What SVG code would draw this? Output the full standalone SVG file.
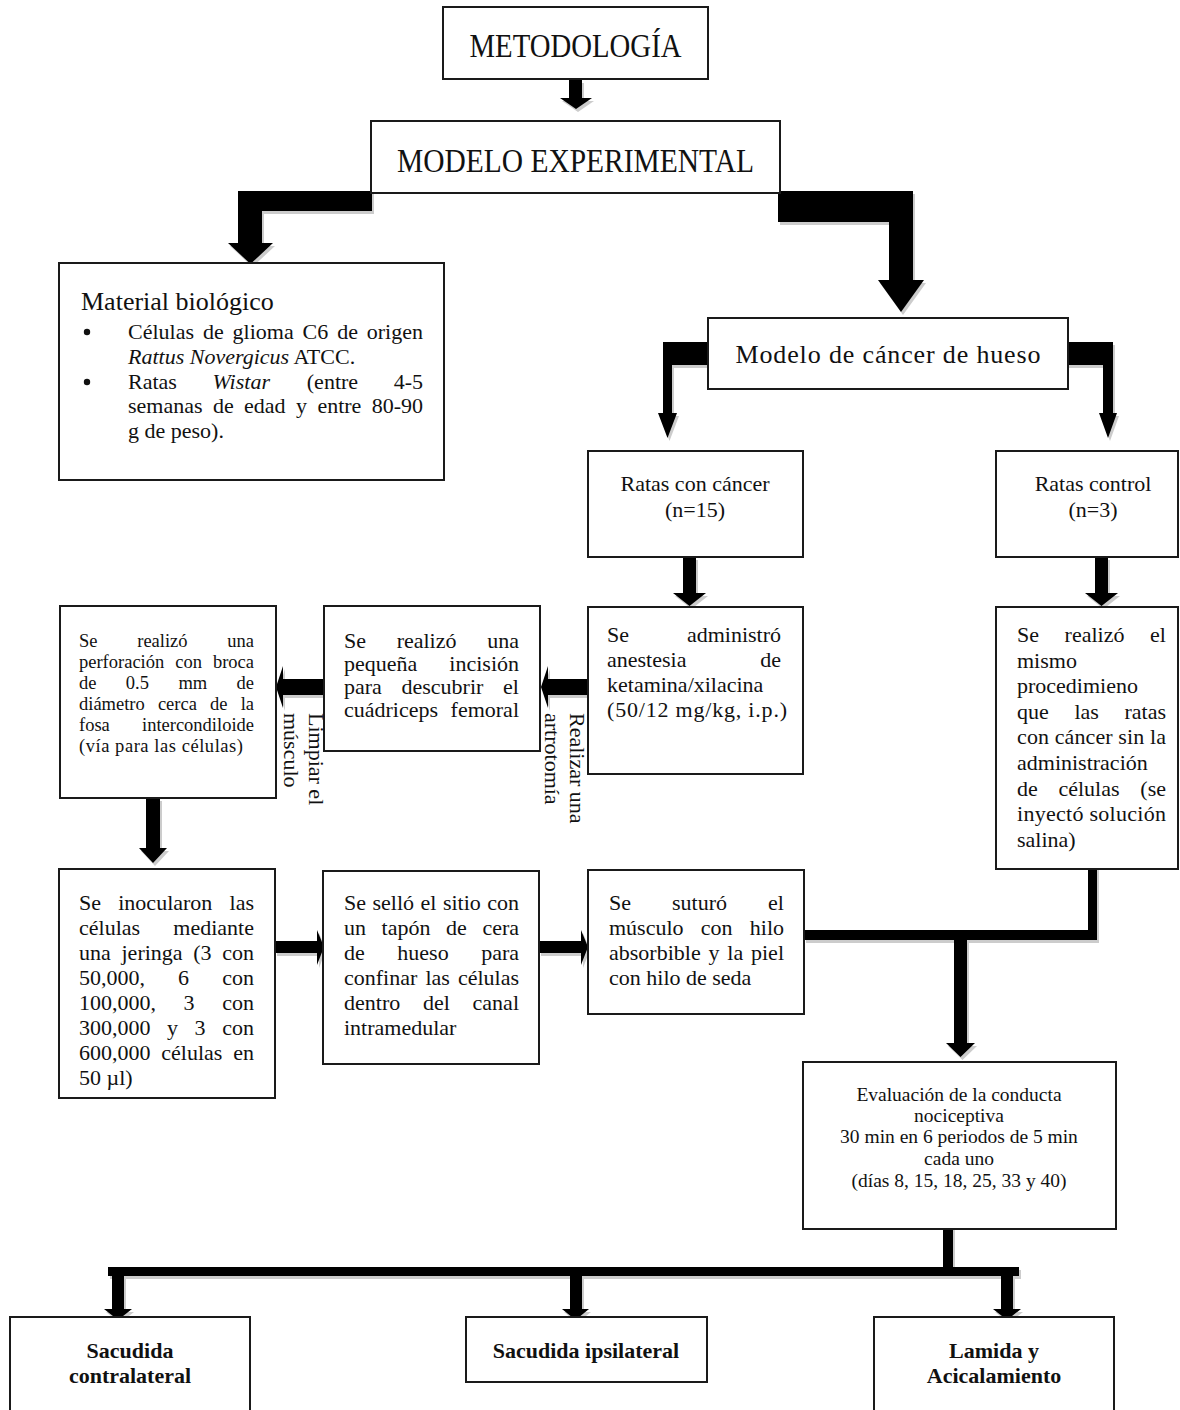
<svg xmlns="http://www.w3.org/2000/svg" xmlns:xlink="http://www.w3.org/1999/xlink" width="1180" height="1410" viewBox="0 0 1180 1410">
<style>
.box{fill:#fff;stroke:#1a1a1a;stroke-width:2}
text{font-family:"Liberation Serif","DejaVu Serif",serif;fill:#111}
.f18{font-size:18.5px}
.f22{font-size:22px}
.f19{font-size:19.5px}
.big{font-size:34px}
.mid{font-size:26px}
.bold{font-size:22px;font-weight:bold}
.e{text-anchor:end}
.m{text-anchor:middle}
.it{font-style:italic}
</style>
<rect width="1180" height="1410" fill="#fff"/>
<g id="connectors">
  <use xlink:href="#conn-paths" href="#conn-paths" transform="translate(2,3)" fill="#cccccc"/>
  <g fill="#000">
    <g id="conn-paths">
      <path d="M569,80 H582 V98 H592 L576,109 L560,98 H569 Z"/>
      <path d="M372,191 V211 H262 V243 H273 L250.5,264 L228,243 H238 V191 Z"/>
      <path d="M778,191 H913 V280 H924 L901,312 L878,280 H889 V222 H778 Z"/>
      <path d="M710,342 V365 H672 V413 H677 L667.5,438 L658,413 H663 V342 Z"/>
      <path d="M1066,342 H1113 V413 H1117 L1108,438 L1099,413 H1103 V365 H1066 Z"/>
      <path d="M683,557 H696 V593 H706 L689.5,606 L673,593 H683 Z"/>
      <path d="M1095,557 H1108 V593 H1118 L1101.5,606 L1085,593 H1095 Z"/>
      <path d="M588,679 V695 H548 V708 L541,687 L548,666 V679 Z"/>
      <path d="M324,679 V695 H283 V708 L276,687 L283,666 V679 Z"/>
      <path d="M146,798 H160 V848 H167 L153,863 L139,848 H146 Z"/>
      <path d="M275,941 H317 V930 L324,947 L317,965 V953 H275 Z"/>
      <path d="M539,941 H581 V930 L588,947 L581,965 V953 H539 Z"/>
      <path d="M804,930 H1088 V863 H1097 V940 H967 V1043 H975 L960.5,1057 L946,1043 H954 V940 H804 Z"/>
      <path d="M943,1225 H953 V1267 H1019 V1276 H1013 V1309 H1021 L1007,1320 L993,1309 H1001 V1276 H582 V1309 H589 L575.5,1320 L562,1309 H570 V1276 H124 V1309 H132 L118,1320 L104,1309 H112 V1276 H108 V1267 H943 Z"/>
    </g>
  </g>
  <text class="f22" transform="translate(309,713) rotate(90)">Limpiar el</text>
  <text class="f22" transform="translate(284,713) rotate(90)">músculo</text>
  <text class="f22" transform="translate(570,713) rotate(90)">Realizar una</text>
  <text class="f22" transform="translate(545,713) rotate(90)">artrotomía</text>
</g>

<g id="n-metodologia">
  <rect class="box" x="443" y="7" width="265" height="72"/>
  <text class="big m" x="575.5" y="57" textLength="212" lengthAdjust="spacingAndGlyphs">METODOLOGÍA</text>
</g>
<g id="n-modelo-experimental">
  <rect class="box" x="371" y="121" width="409" height="72"/>
  <text class="big m" x="575.5" y="172" textLength="357" lengthAdjust="spacingAndGlyphs">MODELO EXPERIMENTAL</text>
</g>
<g id="n-material">
  <rect class="box" x="59" y="263" width="385" height="217"/>
  <text class="mid" x="81" y="310">Material biológico</text>
  <circle cx="87" cy="332" r="3.2" fill="#111"/>
  <circle cx="87" cy="382" r="3.2" fill="#111"/>
  <text class="f22" y="339"><tspan x="128">Células</tspan><tspan x="202.9">de</tspan><tspan x="232.6">glioma</tspan><tspan x="302.6">C6</tspan><tspan x="337.2">de</tspan></text>
  <text class="f22 e" x="423" y="339">origen</text>
  <text class="f22" x="128" y="364"><tspan class="it">Rattus Novergicus</tspan> ATCC.</text>
  <text class="f22" y="389"><tspan x="128">Ratas</tspan><tspan class="it" x="212.5">Wistar</tspan><tspan x="306.8">(entre</tspan></text>
  <text class="f22 e" x="423" y="389">4-5</text>
  <text class="f22" y="413"><tspan x="128">semanas</tspan><tspan x="212.9">de</tspan><tspan x="244.1">edad</tspan><tspan x="296">y</tspan><tspan x="317.4">entre</tspan></text>
  <text class="f22 e" x="423" y="413">80-90</text>
  <text class="f22" x="128" y="438">g de peso).</text>
</g>
<g id="n-modelo-cancer">
  <rect class="box" x="708" y="318" width="360" height="71"/>
  <text class="mid m" x="888" y="363" textLength="305" lengthAdjust="spacing">Modelo de cáncer de hueso</text>
</g>
<g id="n-ratas-cancer">
  <rect class="box" x="588" y="451" width="215" height="106"/>
  <text class="f22 m" x="695" y="491">Ratas con cáncer</text>
  <text class="f22 m" x="695" y="517">(n=15)</text>
</g>
<g id="n-ratas-control">
  <rect class="box" x="996" y="451" width="182" height="106"/>
  <text class="f22 m" x="1093" y="491">Ratas control</text>
  <text class="f22 m" x="1093" y="517">(n=3)</text>
</g>
<g id="n-administro">
  <rect class="box" x="588" y="607" width="215" height="167"/>
  <text class="f22" x="607" y="642">Se</text><text class="f22 e" x="781" y="642">administró</text>
  <text class="f22" x="607" y="667">anestesia</text><text class="f22 e" x="781" y="667">de</text>
  <text class="f22" x="607" y="692">ketamina/xilacina</text>
  <text class="f22" x="607" y="717" textLength="180" lengthAdjust="spacing">(50/12 mg/kg, i.p.)</text>
</g>
<g id="n-control-proc">
  <rect class="box" x="996" y="607" width="182" height="262"/>
  <text class="f22" x="1017" y="642">Se</text><text class="f22 m" x="1094.5" y="642">realizó</text><text class="f22 e" x="1166" y="642">el</text>
  <text class="f22" x="1017" y="667.6">mismo</text>
  <text class="f22" x="1017" y="693.2">procedimieno</text>
  <text class="f22" x="1017" y="718.8">que</text><text class="f22 m" x="1086.7" y="718.8">las</text><text class="f22 e" x="1166" y="718.8">ratas</text>
  <text class="f22" x="1017" y="744.4" textLength="149" lengthAdjust="spacing">con cáncer sin la</text>
  <text class="f22" x="1017" y="770">administración</text>
  <text class="f22" x="1017" y="795.6">de</text><text class="f22 m" x="1089" y="795.6">células</text><text class="f22 e" x="1166" y="795.6">(se</text>
  <text class="f22" x="1017" y="821.2" textLength="149" lengthAdjust="spacing">inyectó solución</text>
  <text class="f22" x="1017" y="846.8">salina)</text>
</g>
<g id="n-incision">
  <rect class="box" x="324" y="606" width="216" height="145"/>
  <text class="f22" x="344" y="648">Se</text><text class="f22 m" x="426.6" y="648">realizó</text><text class="f22 e" x="519" y="648">una</text>
  <text class="f22" x="344" y="671">pequeña</text><text class="f22 e" x="519" y="671">incisión</text>
  <text class="f22" y="694"><tspan x="344">para</tspan><tspan x="401.5">descubrir</tspan></text><text class="f22 e" x="519" y="694">el</text>
  <text class="f22" x="344" y="717">cuádriceps</text><text class="f22 e" x="519" y="717">femoral</text>
</g>
<g id="n-perforacion">
  <rect class="box" x="60" y="606" width="216" height="192"/>
  <text class="f18" x="79" y="647">Se</text><text class="f18 m" x="162.4" y="647">realizó</text><text class="f18 e" x="254" y="647">una</text>
  <text class="f18" y="668"><tspan x="79">perforación</tspan><tspan x="175.3">con</tspan></text><text class="f18 e" x="254" y="668">broca</text>
  <text class="f18" x="79" y="689">de</text><text class="f18 m" x="137.4" y="689">0.5</text><text class="f18 m" x="192.8" y="689">mm</text><text class="f18 e" x="254" y="689">de</text>
  <text class="f18" y="710"><tspan x="79">diámetro</tspan><tspan x="157.9">cerca</tspan><tspan x="210">de</tspan></text><text class="f18 e" x="254" y="710">la</text>
  <text class="f18" x="79" y="731">fosa</text><text class="f18 e" x="254" y="731">intercondiloide</text>
  <text class="f18" x="79" y="752" textLength="164" lengthAdjust="spacing">(vía para las células)</text>
</g>
<g id="n-inocularon">
  <rect class="box" x="59" y="869" width="216" height="229"/>
  <text class="f22" x="79" y="910">Se</text><text class="f22 m" x="165.3" y="910">inocularon</text><text class="f22 e" x="254" y="910">las</text>
  <text class="f22" x="79" y="935">células</text><text class="f22 e" x="254" y="935">mediante</text>
  <text class="f22" y="960"><tspan x="79">una</tspan><tspan x="121.5">jeringa</tspan><tspan x="193.3">(3</tspan></text><text class="f22 e" x="254" y="960">con</text>
  <text class="f22" x="79" y="985">50,000,</text><text class="f22 m" x="183.6" y="985">6</text><text class="f22 e" x="254" y="985">con</text>
  <text class="f22" x="79" y="1010">100,000,</text><text class="f22 m" x="189.1" y="1010">3</text><text class="f22 e" x="254" y="1010">con</text>
  <text class="f22" x="79" y="1035">300,000</text><text class="f22 m" x="172.6" y="1035">y</text><text class="f22 m" x="200.1" y="1035">3</text><text class="f22 e" x="254" y="1035">con</text>
  <text class="f22" y="1060"><tspan x="79">600,000</tspan><tspan x="161.3">células</tspan></text><text class="f22 e" x="254" y="1060">en</text>
  <text class="f22" x="79" y="1085">50 µl)</text>
</g>
<g id="n-sello">
  <rect class="box" x="323" y="871" width="216" height="193"/>
  <text class="f22" y="910"><tspan x="344">Se</tspan><tspan x="372.5">selló</tspan><tspan x="420.5">el</tspan><tspan x="442.9">sitio</tspan></text><text class="f22 e" x="519" y="910">con</text>
  <text class="f22" x="344" y="935">un</text><text class="f22 m" x="406" y="935">tapón</text><text class="f22 m" x="456.5" y="935">de</text><text class="f22 e" x="519" y="935">cera</text>
  <text class="f22" x="344" y="960">de</text><text class="f22 m" x="423" y="960">hueso</text><text class="f22 e" x="519" y="960">para</text>
  <text class="f22" y="985"><tspan x="344">confinar</tspan><tspan x="425.4">las</tspan></text><text class="f22 e" x="519" y="985">células</text>
  <text class="f22" x="344" y="1010">dentro</text><text class="f22 m" x="436.4" y="1010">del</text><text class="f22 e" x="519" y="1010">canal</text>
  <text class="f22" x="344" y="1035">intramedular</text>
</g>
<g id="n-suturo">
  <rect class="box" x="588" y="870" width="216" height="144"/>
  <text class="f22" x="609" y="910">Se</text><text class="f22 m" x="699.5" y="910">suturó</text><text class="f22 e" x="784" y="910">el</text>
  <text class="f22" x="609" y="935">músculo</text><text class="f22 m" x="716.7" y="935">con</text><text class="f22 e" x="784" y="935">hilo</text>
  <text class="f22" y="960"><tspan x="609">absorbible</tspan><tspan x="708.5">y</tspan><tspan x="727.3">la</tspan></text><text class="f22 e" x="784" y="960">piel</text>
  <text class="f22" x="609" y="985">con hilo de seda</text>
</g>
<g id="n-evaluacion">
  <rect class="box" x="803" y="1062" width="313" height="167"/>
  <text class="f19 m" x="959" y="1101">Evaluación de la conducta</text>
  <text class="f19 m" x="959" y="1122">nociceptiva</text>
  <text class="f19 m" x="959" y="1143">30 min en 6 periodos de 5 min</text>
  <text class="f19 m" x="959" y="1165">cada uno</text>
  <text class="f19 m" x="959" y="1187">(días 8, 15, 18, 25, 33 y 40)</text>
</g>
<g id="n-contralateral">
  <rect class="box" x="10" y="1317" width="240" height="110"/>
  <text class="bold m" x="130" y="1358">Sacudida</text>
  <text class="bold m" x="130" y="1383">contralateral</text>
</g>
<g id="n-ipsilateral">
  <rect class="box" x="466" y="1317" width="241" height="65"/>
  <text class="bold m" x="586" y="1358">Sacudida ipsilateral</text>
</g>
<g id="n-lamida">
  <rect class="box" x="874" y="1317" width="240" height="110"/>
  <text class="bold m" x="994" y="1358">Lamida y</text>
  <text class="bold m" x="994" y="1383">Acicalamiento</text>
</g>
</svg>
